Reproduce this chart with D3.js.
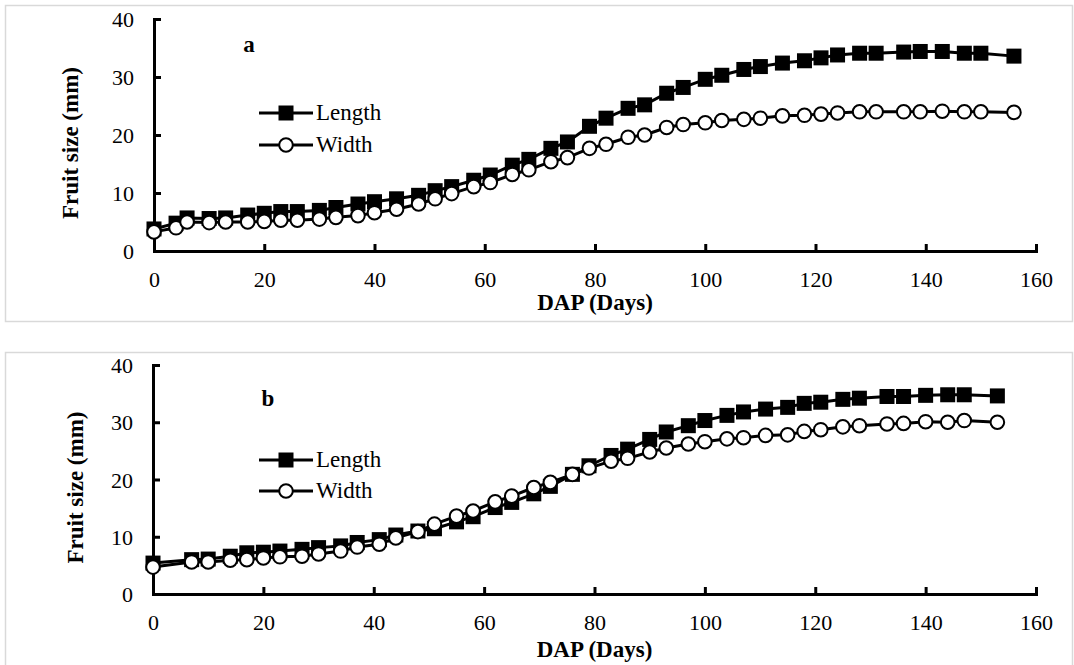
<!DOCTYPE html>
<html>
<head>
<meta charset="UTF-8">
<title>Fruit size</title>
<script src="https://cdn.jsdelivr.net/npm/d3@7/dist/d3.min.js"></script>
<style>
  html, body { margin: 0; padding: 0; background: #fff; }
  svg { display: block; }
  svg text { font-family: "Liberation Serif", Tinos, "Times New Roman", "DejaVu Serif", serif; }
</style>
</head>
<body>
<svg id="chart" width="1074" height="665"></svg>
<script>
// panel a
const daysA   = [0,4,6,10,13,17,20,23,26,30,33,37,40,44,48,51,54,58,61,65,68,72,75,79,82,86,89,93,96,100,103,107,110,114,118,121,124,128,131,136,139,143,147,150,156];
const lengthA = [3.8,4.8,5.7,5.6,5.7,6.2,6.5,6.8,6.8,7.0,7.5,8.1,8.5,9.0,9.6,10.4,11.1,12.2,13.1,14.8,15.8,17.7,18.8,21.5,22.9,24.6,25.2,27.2,28.2,29.6,30.3,31.3,31.8,32.4,32.8,33.3,33.8,34.1,34.1,34.3,34.4,34.4,34.1,34.1,33.6];
const widthA  = [3.3,4.0,5.0,4.9,5.0,5.0,5.1,5.3,5.3,5.5,5.8,6.1,6.6,7.2,8.1,9.0,9.9,11.1,11.8,13.2,14.0,15.4,16.1,17.7,18.4,19.6,20.0,21.3,21.8,22.1,22.5,22.7,22.9,23.3,23.4,23.6,23.8,24.0,24.0,24.0,24.0,24.1,24.0,24.0,23.9];

// panel b
const daysB   = [0,7,10,14,17,20,23,27,30,34,37,41,44,48,51,55,58,62,65,69,72,76,79,83,86,90,93,97,100,104,107,111,115,118,121,125,128,133,136,140,144,147,153];
const lengthB = [5.4,6.0,6.1,6.6,7.2,7.3,7.5,7.8,8.1,8.4,9.0,9.5,10.3,11.0,11.4,12.6,13.5,15.1,16.0,17.5,18.8,20.9,22.4,24.2,25.3,27.0,28.3,29.4,30.3,31.2,31.8,32.3,32.6,33.3,33.5,34.0,34.2,34.5,34.5,34.7,34.8,34.8,34.6];
const widthB  = [4.7,5.6,5.6,5.9,6.0,6.3,6.5,6.6,7.0,7.5,8.2,8.7,9.8,10.9,12.2,13.6,14.5,16.1,17.1,18.6,19.5,20.9,22.0,23.2,23.7,24.8,25.5,26.2,26.6,27.1,27.3,27.7,27.8,28.4,28.7,29.2,29.4,29.7,29.8,30.1,30.0,30.3,30.0];

const xTicks = [0,20,40,60,80,100,120,140,160];
const yTicks = [0,10,20,30,40];
const seriesNames = ["Length", "Width"];

const FONT = '"Liberation Serif", Tinos, "Times New Roman", "DejaVu Serif", serif';

const panels = [
  { tag: "a", days: daysA, length: lengthA, width: widthA,
    box: [5, 5, 1072, 321], xr: [154, 1036], yr: [251, 19],
    tagAt: [249, 52], leg: { x1: 259, x2: 313, y: 113, gap: 32 },
    yTitleX: 70, xTitleY: 310 },
  { tag: "b", days: daysB, length: lengthB, width: widthB,
    box: [5, 352, 1072, 670], xr: [153, 1036], yr: [594, 365],
    tagAt: [268, 406], leg: { x1: 259, x2: 313, y: 460, gap: 31 },
    yTitleX: 75, xTitleY: 657 }
];

const svg = d3.select("#chart");

panels.forEach(p => {
  const g = svg.append("g").attr("font-family", FONT);

  // frame
  g.append("rect")
    .attr("x", p.box[0] + 0.5).attr("y", p.box[1] + 0.5)
    .attr("width", p.box[2] - p.box[0]).attr("height", p.box[3] - p.box[1])
    .attr("fill", "#fff").attr("stroke", "#d9d9d9").attr("stroke-width", 1.5);

  const x = d3.scaleLinear().domain([0, 160]).range(p.xr);
  const y = d3.scaleLinear().domain([0, 40]).range(p.yr);

  // axes, ticks pointing inward
  const xAxis = g.append("g")
    .attr("transform", `translate(0,${p.yr[0]})`)
    .call(d3.axisBottom(x).tickValues(xTicks).tickSizeInner(-7).tickSizeOuter(-7).tickPadding(20));
  const yAxis = g.append("g")
    .attr("transform", `translate(${p.xr[0]},0)`)
    .call(d3.axisLeft(y).tickValues(yTicks).tickSizeInner(-7).tickSizeOuter(-7).tickPadding(20));

  [xAxis, yAxis].forEach(a => {
    a.attr("font-family", FONT).attr("font-size", 22);
    a.selectAll("path, line").attr("stroke", "#000").attr("stroke-width", 3);
    a.selectAll("text").attr("fill", "#000").attr("font-family", FONT).attr("font-size", 22);
  });
  xAxis.selectAll("text").attr("dy", "0.71em");
  yAxis.selectAll("text").attr("dy", "0.35em");

  // axis titles
  g.append("text")
    .attr("x", (p.xr[0] + p.xr[1]) / 2).attr("y", p.xTitleY)
    .attr("text-anchor", "middle").attr("font-weight", "bold")
    .attr("font-size", 23).text("DAP (Days)");
  g.append("text")
    .attr("transform", `translate(${p.yTitleX},${(p.yr[0] + p.yr[1]) / 2 + 8}) rotate(-90)`)
    .attr("text-anchor", "middle").attr("dy", "0.35em").attr("font-weight", "bold")
    .attr("font-size", 23).text("Fruit size (mm)");

  // panel tag
  g.append("text")
    .attr("x", p.tagAt[0]).attr("y", p.tagAt[1])
    .attr("text-anchor", "middle").attr("font-weight", "bold")
    .attr("font-size", 23).text(p.tag);

  const line = d3.line().x(d => x(d[0])).y(d => y(d[1]));
  const sets = [
    p.days.map((d, i) => [d, p.length[i]]),
    p.days.map((d, i) => [d, p.width[i]])
  ];

  sets.forEach((pts, si) => {
    const s = g.append("g");
    s.append("path").datum(pts).attr("d", line)
      .attr("fill", "none").attr("stroke", "#000").attr("stroke-width", 3);
    if (si === 0) {
      s.selectAll("rect").data(pts).join("rect")
        .attr("x", d => x(d[0]) - 7.5).attr("y", d => y(d[1]) - 7.5)
        .attr("width", 15).attr("height", 15)
        .attr("fill", "#000");
    } else {
      s.selectAll("circle").data(pts).join("circle")
        .attr("cx", d => x(d[0])).attr("cy", d => y(d[1])).attr("r", 6.8)
        .attr("fill", "#fff").attr("stroke", "#000").attr("stroke-width", 2);
    }
  });

  // legend
  seriesNames.forEach((name, i) => {
    const ly = p.leg.y + i * p.leg.gap;
    const lg = g.append("g");
    lg.append("line")
      .attr("x1", p.leg.x1).attr("x2", p.leg.x2).attr("y1", ly).attr("y2", ly)
      .attr("stroke", "#000").attr("stroke-width", 3);
    const mx = (p.leg.x1 + p.leg.x2) / 2;
    if (i === 0) {
      lg.append("rect").attr("x", mx - 7.5).attr("y", ly - 7.5)
        .attr("width", 15).attr("height", 15).attr("fill", "#000");
    } else {
      lg.append("circle").attr("cx", mx).attr("cy", ly).attr("r", 6.8)
        .attr("fill", "#fff").attr("stroke", "#000").attr("stroke-width", 2);
    }
    lg.append("text").attr("x", p.leg.x2 + 3).attr("y", ly).attr("dy", "0.3em")
      .attr("font-size", 23).text(name);
  });
});
</script>
</body>
</html>
